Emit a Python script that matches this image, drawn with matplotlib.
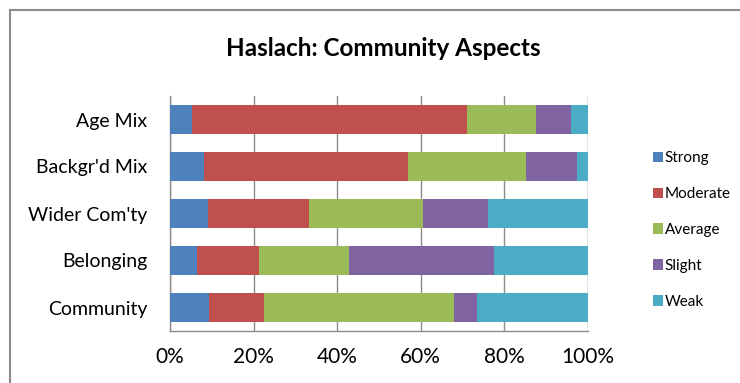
import matplotlib
matplotlib.use("Agg")
import matplotlib.pyplot as plt
from matplotlib.lines import Line2D
from matplotlib.patches import Patch

categories = ["Age Mix", "Backgr'd Mix", "Wider Com'ty", "Belonging", "Community"]
series_names = ["Strong", "Moderate", "Average", "Slight", "Weak"]
strong   = [5.3, 8.1, 9.0, 6.5, 9.3]
moderate = [65.7, 48.8, 24.3, 14.8, 13.2]
average  = [16.6, 28.3, 27.3, 21.5, 45.4]
slight   = [8.3, 12.2, 15.4, 34.7, 5.6]
weak     = [4.1, 2.6, 24.0, 22.5, 26.5]
tick_labels = ["0%", "20%", "40%", "60%", "80%", "100%"]
colors = ["#4F81BD", "#C0504D", "#9BBB59", "#8064A2", "#4BACC6"]

plt.rcParams['font.family'] = ['Lato', 'DejaVu Sans']

fig = plt.figure(figsize=(7.4, 3.83), dpi=100)
ax = fig.add_axes([170/740, 52/383, 418/740, 235/383])

series = [strong, moderate, average, slight, weak]
ypos = list(range(len(categories)))
left = [0.0] * len(categories)
for vals, c in zip(series, colors):
    ax.barh(ypos, vals, left=left, height=0.62, color=c, zorder=3)
    left = [l + v for l, v in zip(left, vals)]

ax.set_xlim(0, 100)
ax.set_ylim(4.5, -0.5)
ax.set_xticks([0, 20, 40, 60, 80, 100])
ax.set_xticklabels(tick_labels, fontsize=15)
ax.set_yticks(ypos)
ax.set_yticklabels(categories, fontsize=14)
ax.tick_params(axis='both', length=0)
ax.tick_params(axis='x', pad=11.5)
ax.tick_params(axis='y', pad=16.5)
ax.grid(axis='x', color='#8c8c8c', linewidth=1, zorder=0)
for s in ['top', 'right']:
    ax.spines[s].set_visible(False)
for s in ['left', 'bottom']:
    ax.spines[s].set_color('#8c8c8c')
    ax.spines[s].set_linewidth(1)

fig.text(383/740, 1 - 49/383, "Haslach: Community Aspects", ha='center', va='center',
         fontsize=17.5, fontweight='bold')

handles = [Patch(facecolor=c, edgecolor='none') for c in colors]
leg = fig.legend(handles, series_names, loc='upper left', bbox_to_anchor=(652.5/740, 1 - 151.5/383),
                 frameon=False, fontsize=11, handlelength=0.7, handleheight=0.7,
                 handletextpad=0.1, labelspacing=1.43, borderaxespad=0, borderpad=0)

# outer chart border
fig.add_artist(Line2D([9.5/740, 1.0], [1 - 9.5/383, 1 - 9.5/383], color='#8c8c8c', linewidth=1.5, transform=fig.transFigure))
fig.add_artist(Line2D([9.5/740, 9.5/740], [0, 1 - 9.5/383], color='#8c8c8c', linewidth=1.5, transform=fig.transFigure))

fig.savefig("out.png", dpi=100)
